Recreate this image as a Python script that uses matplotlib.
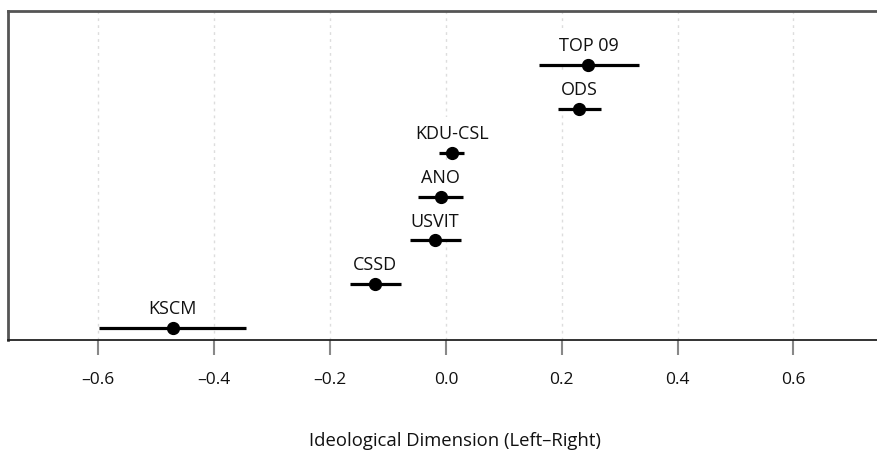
#!/usr/bin/env python
# -*- coding: utf-8 -*-

"""
政党意识形态位置图（左-右维度），点为估计值，横线为置信区间
"""

import matplotlib
matplotlib.use('Agg')
import matplotlib.pyplot as plt

# 数据
parties = ['KSCM', 'CSSD', 'USVIT', 'ANO', 'KDU-CSL', 'ODS', 'TOP 09']
estimate = [-0.472, -0.123, -0.019, -0.009, 0.010, 0.230, 0.246]
lower = [-0.599, -0.166, -0.062, -0.048, -0.012, 0.193, 0.161]
upper = [-0.345, -0.077, 0.026, 0.030, 0.031, 0.267, 0.334]

tick_values = [-0.6, -0.4, -0.2, 0.0, 0.2, 0.4, 0.6]
tick_labels = ['–0.6', '–0.4', '–0.2', '0.0', '0.2', '0.4', '0.6']
x_label = 'Ideological Dimension (Left–Right)'


def main():
    plt.rcParams['font.family'] = ['Open Sans', 'DejaVu Sans']

    fig = plt.figure(figsize=(8.77, 4.54), dpi=100)
    W, H = 877, 454
    # 右边框超出画布，和原图一样
    ax = fig.add_axes([8 / W, (H - 340) / H, (885 - 8) / W, (340 - 11) / H])

    ypos = list(range(1, len(parties) + 1))

    # 网格线
    for t in tick_values:
        ax.axvline(t, color='#dddddd', lw=1, ls=(0, (2, 3)), zorder=0)

    # 置信区间和估计值
    ax.hlines(ypos, lower, upper, color='black', lw=2.3, zorder=3)
    ax.plot(estimate, ypos, 'o', color='black', ms=8.5, zorder=4)

    # 政党名称
    for name, x, y in zip(parties, estimate, ypos):
        ax.annotate(name, (x, y), xytext=(0, 10), textcoords='offset points',
                    ha='center', va='baseline', fontsize=13, color='#111111',
                    bbox=dict(boxstyle='square,pad=0.45', fc='white', ec='none'),
                    zorder=2)

    ax.set_xlim(-0.756, 0.758)
    ax.set_ylim(0.725, 8.24)
    ax.set_xticks(tick_values)
    ax.set_xticklabels(tick_labels, fontsize=12.5, color='#111111')
    ax.set_yticks([])
    ax.tick_params(axis='x', length=11, width=1.5, color='#888888', pad=12)

    for side in ['top', 'left', 'right']:
        ax.spines[side].set_color('#555555')
        ax.spines[side].set_linewidth(2)
    ax.spines['bottom'].set_color('#222222')
    ax.spines['bottom'].set_linewidth(1.3)

    # x轴标题（放在图底部）
    fig.text(455 / W, (H - 441) / H, x_label, ha='center', va='center',
             fontsize=13.3, color='#111111')

    fig.savefig('out.png', dpi=100)


if __name__ == "__main__":
    main()
